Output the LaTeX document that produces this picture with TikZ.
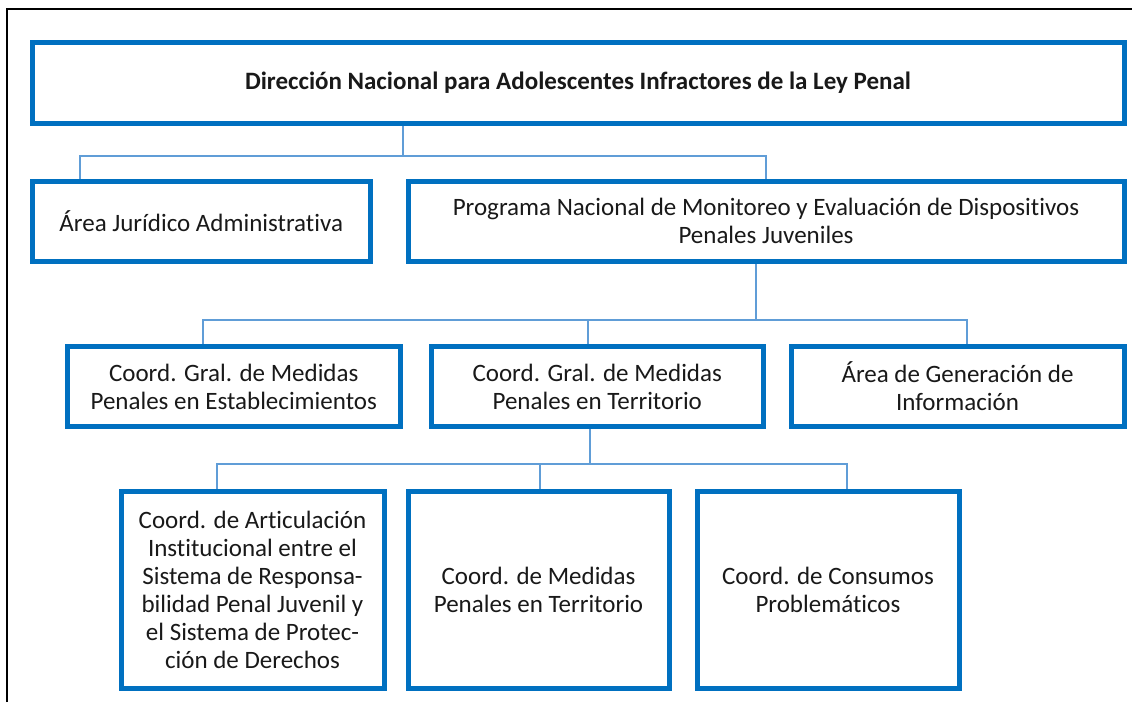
\documentclass[tikz,border=0pt]{standalone}
\usepackage{fontspec}
\setmainfont{Carlito}[Ligatures=NoCommon]
\usetikzlibrary{backgrounds}
\definecolor{boxblue}{RGB}{0,112,192}
\definecolor{linkblue}{RGB}{96,157,215}
\begin{document}
\begin{tikzpicture}[x=1pt,y=-1pt,
  orgbox/.style={draw=boxblue, line width=5pt, fill=white, inner sep=0pt, align=center,
    font=\fontsize{25}{28}\selectfont, text=black!90},
  link/.style={draw=linkblue, line width=2pt}]
\useasboundingbox (0,0) rectangle (1132,702);
\draw[line width=2pt] (7,702) -- (7,9) -- (1132,9);

\node[orgbox, minimum width=1092pt, minimum height=81pt, font=\fontsize{25}{28}\selectfont\bfseries] (top) at (578,83)
  {Dirección Nacional para Adolescentes Infractores de la Ley Penal};

\node[orgbox, minimum width=338.5pt, minimum height=80.5pt] (a1) at (201.25,221.25)
  {Área Jurídico Administrativa};
\node[orgbox, minimum width=716pt, minimum height=80.5pt] (a2) at (766,221.25)
  {Programa Nacional de Monitoreo y Evaluación de Dispositivos\\Penales Juveniles};

\node[orgbox, minimum width=332.5pt, minimum height=80pt] (b1) at (233.75,386.5)
  {Coord. Gral. de Medidas\\Penales en Establecimientos};
\node[orgbox, minimum width=332.5pt, minimum height=80pt] (b2) at (597.25,386.5)
  {Coord. Gral. de Medidas\\Penales en Territorio};
\node[orgbox, minimum width=333pt, minimum height=80pt] (b3) at (957.5,386.5)
  {Área de Generación de\\Información};

\node[orgbox, minimum width=263pt, minimum height=197pt] (c1) at (252.5,590)
  {Coord. de Articulación\\Institucional entre el\\Sistema de Responsa-\\bilidad Penal Juvenil y\\el Sistema de Protec-\\ción de Derechos};
\node[orgbox, minimum width=261pt, minimum height=197pt] (c2) at (538.5,590)
  {Coord. de Medidas\\Penales en Territorio};
\node[orgbox, minimum width=262pt, minimum height=197pt] (c3) at (828,590)
  {Coord. de Consumos\\Problemáticos};

\coordinate (j1) at (403,156);
\coordinate (j1l) at (80,156);
\coordinate (j1r) at (766,156);
\coordinate (j2) at (756,320);
\coordinate (j2l) at (203,320);
\coordinate (j2m) at (588,320);
\coordinate (j2r) at (967,320);
\coordinate (j3) at (590,464);
\coordinate (j3l) at (217,464);
\coordinate (j3m) at (540,464);
\coordinate (j3r) at (847,464);

\begin{scope}[on background layer]
\draw[link] (j1 |- top.south) -- (j1) -- (j1l) -- (j1l |- a1.north);
\draw[link] (j1) -- (j1r) -- (j1r |- a2.north);
\draw[link] (j2 |- a2.south) -- (j2) -- (j2l) -- (j2l |- b1.north);
\draw[link] (j2m) -- (j2m |- b2.north);
\draw[link] (j2) -- (j2r) -- (j2r |- b3.north);
\draw[link] (j3 |- b2.south) -- (j3) -- (j3l) -- (j3l |- c1.north);
\draw[link] (j3m) -- (j3m |- c2.north);
\draw[link] (j3) -- (j3r) -- (j3r |- c3.north);
\end{scope}
\end{tikzpicture}
\end{document}
